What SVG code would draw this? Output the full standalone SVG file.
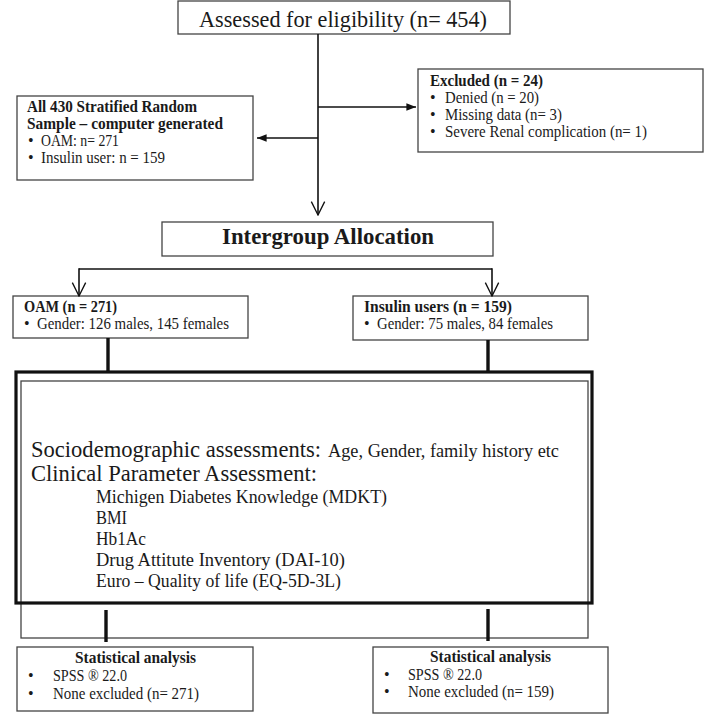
<svg xmlns="http://www.w3.org/2000/svg" width="716" height="714" viewBox="0 0 716 714">
<defs>
<style>
text{font-family:"Liberation Serif","Times New Roman",serif;fill:#1a1a1a}
.b{font-weight:bold}
.box{fill:#fff;stroke:#444;stroke-width:1.3}
.thick{fill:none;stroke:#111;stroke-width:3.2}
.ln{fill:none;stroke:#111;stroke-width:1.6}
.tl{fill:none;stroke:#111;stroke-width:3.4}
.s15{font-size:16px}
.s18{font-size:19px}
.s22{font-size:23px}
</style>
<marker id="fill" viewBox="0 0 10 10" refX="10" refY="5" markerWidth="6" markerHeight="6" orient="auto" markerUnits="strokeWidth">
<path d="M0,1 L10,5 L0,9 Z" fill="#111"/>
</marker>
<marker id="open" viewBox="0 0 12 12" refX="11" refY="6" markerWidth="10" markerHeight="10" orient="auto" markerUnits="strokeWidth">
<path d="M1,1 L11,6 L1,11" fill="none" stroke="#111" stroke-width="1"/>
</marker>
</defs>
<rect width="716" height="714" fill="#fff"/>

<g id="assessed">
<rect class="box" x="178" y="1" width="332" height="33"/>
<text class="s22" x="199" y="27" textLength="288" lengthAdjust="spacingAndGlyphs">Assessed for eligibility (n= 454)</text>
</g>

<g id="stratified">
<rect class="box" x="17" y="96" width="236" height="84"/>
<text class="s15 b" x="27" y="112" textLength="170" lengthAdjust="spacingAndGlyphs">All 430 Stratified Random</text>
<text class="s15 b" x="27" y="129" textLength="196" lengthAdjust="spacingAndGlyphs">Sample – computer generated</text>
<text class="s15" x="28" y="146">•</text>
<text class="s15" x="41" y="146" textLength="78" lengthAdjust="spacingAndGlyphs">OAM: n= 271</text>
<text class="s15" x="28" y="163">•</text>
<text class="s15" x="41" y="163" textLength="124" lengthAdjust="spacingAndGlyphs">Insulin user: n = 159</text>
</g>

<g id="excluded">
<rect class="box" x="418" y="69" width="285" height="83"/>
<text class="s15 b" x="430" y="86" textLength="113" lengthAdjust="spacingAndGlyphs">Excluded (n = 24)</text>
<text class="s15" x="430" y="103">•</text>
<text class="s15" x="445" y="103" textLength="94" lengthAdjust="spacingAndGlyphs">Denied (n = 20)</text>
<text class="s15" x="430" y="120">•</text>
<text class="s15" x="445" y="120" textLength="117" lengthAdjust="spacingAndGlyphs">Missing data (n= 3)</text>
<text class="s15" x="430" y="137">•</text>
<text class="s15" x="445" y="137" textLength="202" lengthAdjust="spacingAndGlyphs">Severe Renal complication (n= 1)</text>
</g>

<g id="allocation">
<rect class="box" x="162" y="222" width="331" height="34"/>
<text class="s22 b" x="222" y="244" textLength="212" lengthAdjust="spacingAndGlyphs">Intergroup Allocation</text>
</g>

<g id="oam">
<rect class="box" x="13" y="296" width="235" height="42"/>
<text class="s15 b" x="24" y="312" textLength="93" lengthAdjust="spacingAndGlyphs">OAM (n = 271)</text>
<text class="s15" x="24" y="329">•</text>
<text class="s15" x="37" y="329" textLength="192" lengthAdjust="spacingAndGlyphs">Gender: 126 males, 145 females</text>
</g>

<g id="insulin">
<rect class="box" x="353" y="296" width="235" height="44"/>
<text class="s15 b" x="364" y="312" textLength="148" lengthAdjust="spacingAndGlyphs">Insulin users (n = 159)</text>
<text class="s15" x="364" y="329">•</text>
<text class="s15" x="377" y="329" textLength="176" lengthAdjust="spacingAndGlyphs">Gender: 75 males, 84 females</text>
</g>

<g id="assessments">
<rect class="box" x="21" y="381" width="567" height="257"/>
<rect class="thick" x="16" y="372" width="576" height="231"/>
<text class="s22" x="31" y="457" textLength="290" lengthAdjust="spacingAndGlyphs">Sociodemographic assessments:</text>
<text class="s18" x="328" y="457" textLength="231" lengthAdjust="spacingAndGlyphs">Age, Gender, family history etc</text>
<text class="s22" x="31" y="481" textLength="286" lengthAdjust="spacingAndGlyphs">Clinical Parameter Assessment:</text>
<text class="s18" x="96" y="503" textLength="291" lengthAdjust="spacingAndGlyphs">Michigen Diabetes Knowledge (MDKT)</text>
<text class="s18" x="96" y="524" textLength="31" lengthAdjust="spacingAndGlyphs">BMI</text>
<text class="s18" x="96" y="545" textLength="50" lengthAdjust="spacingAndGlyphs">Hb1Ac</text>
<text class="s18" x="96" y="566" textLength="249" lengthAdjust="spacingAndGlyphs">Drug Attitute Inventory (DAI-10)</text>
<text class="s18" x="96" y="587" textLength="245" lengthAdjust="spacingAndGlyphs">Euro – Quality of life (EQ-5D-3L)</text>
</g>

<g id="stat-left">
<rect class="box" x="17" y="647" width="236" height="64"/>
<text class="s15 b" x="75" y="663" textLength="121" lengthAdjust="spacingAndGlyphs">Statistical analysis</text>
<text class="s15" x="28" y="681">•</text>
<text class="s15" x="53" y="681" textLength="74" lengthAdjust="spacingAndGlyphs">SPSS ® 22.0</text>
<text class="s15" x="28" y="699">•</text>
<text class="s15" x="53" y="699" textLength="146" lengthAdjust="spacingAndGlyphs">None excluded (n= 271)</text>
</g>

<g id="stat-right">
<rect class="box" x="373" y="647" width="235" height="66"/>
<text class="s15 b" x="430" y="662" textLength="121" lengthAdjust="spacingAndGlyphs">Statistical analysis</text>
<text class="s15" x="384" y="680">•</text>
<text class="s15" x="408" y="680" textLength="74" lengthAdjust="spacingAndGlyphs">SPSS ® 22.0</text>
<text class="s15" x="384" y="697">•</text>
<text class="s15" x="408" y="697" textLength="146" lengthAdjust="spacingAndGlyphs">None excluded (n= 159)</text>
</g>

<g id="connectors">
<line class="ln" x1="318" y1="34" x2="318" y2="215" marker-end="url(#open)"/>
<line class="ln" x1="318" y1="138" x2="257" y2="138" marker-end="url(#fill)"/>
<line class="ln" x1="318" y1="107" x2="416" y2="107" marker-end="url(#fill)"/>
<line class="ln" x1="79" y1="269" x2="492" y2="269"/>
<line class="ln" x1="79" y1="268.2" x2="79" y2="296" marker-end="url(#open)"/>
<line class="ln" x1="492" y1="268.2" x2="492" y2="296" marker-end="url(#open)"/>
<line class="tl" x1="108" y1="338" x2="108" y2="372"/>
<line class="tl" x1="488" y1="340" x2="488" y2="372"/>
<line class="tl" x1="106" y1="610" x2="106" y2="642"/>
<line class="tl" x1="488" y1="609" x2="488" y2="641"/>
</g>
</svg>
